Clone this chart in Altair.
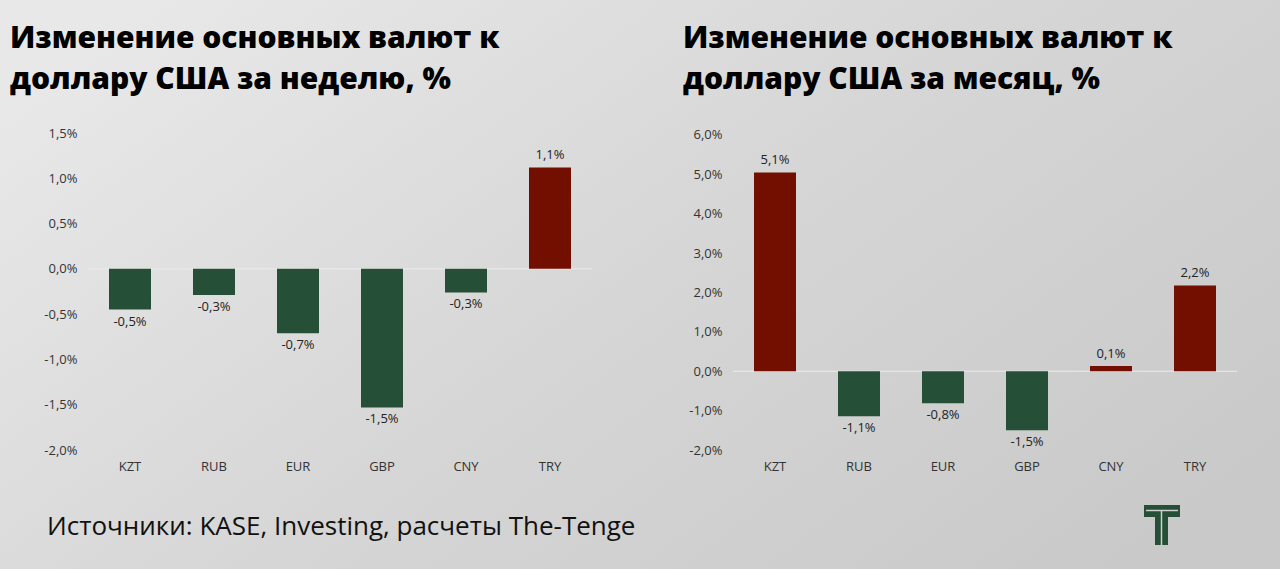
import altair as alt
import pandas as pd

categories = ["KZT", "RUB", "EUR", "GBP", "CNY", "TRY"]
week_values = [-0.45, -0.29, -0.71, -1.53, -0.26, 1.12]
week_labels = ["-0,5%", "-0,3%", "-0,7%", "-1,5%", "-0,3%", "1,1%"]
month_values = [5.05, -1.14, -0.81, -1.50, 0.13, 2.18]
month_labels = ["5,1%", "-1,1%", "-0,8%", "-1,5%", "0,1%", "2,2%"]
week_ticks = [-2.0, -1.5, -1.0, -0.5, 0.0, 0.5, 1.0, 1.5]
month_ticks = [-2.0, -1.0, 0.0, 1.0, 2.0, 3.0, 4.0, 5.0, 6.0]
title_week = ["Изменение основных валют к", "доллару США за неделю, %"]
title_month = ["Изменение основных валют к", "доллару США за месяц, %"]
source_text = "Источники: KASE, Investing, расчеты The-Tenge"

GREEN = "#264f37"
RED = "#730f00"
FONT = "Open Sans"

one = pd.DataFrame({"a": [0]})
zero = pd.DataFrame({"value": [0.0]})

label_expr = "(datum.value < 0 ? '-' : '') + replace(format(abs(datum.value), '.1f'), '.', ',') + '%'"


def panel(values, labels, domain, ticks, title_lines, title_dx, extra=None, background=False):
    df = pd.DataFrame({"cur": categories, "value": values, "label": labels})
    base = alt.Chart(df)
    x = alt.X("cur:N", sort=categories,
              scale=alt.Scale(paddingInner=0.5, paddingOuter=0.25),
              axis=alt.Axis(title=None, orient="bottom", domain=False, ticks=False,
                            labelAngle=0, labelPadding=10, zindex=1))
    y = alt.Y("value:Q", scale=alt.Scale(domain=domain, nice=False, zero=False),
              axis=alt.Axis(title=None, values=ticks, tickCount=len(ticks), grid=False,
                            domain=False, ticks=False, labelPadding=11,
                            labelExpr=label_expr, labelOverlap=False,
                            labelFlush=False, zindex=1))
    bars = base.mark_bar().encode(
        x=x, y=y,
        color=alt.condition("datum.value > 0", alt.value(RED), alt.value(GREEN)),
    )
    rule = alt.Chart(zero).mark_rule(color="#ececec", strokeWidth=1).encode(y=y)
    pos = base.transform_filter("datum.value > 0").mark_text(
        baseline="bottom", dy=-5, fontSize=13, font=FONT, color="#222"
    ).encode(x=x, y=y, text="label:N")
    neg = base.transform_filter("datum.value <= 0").mark_text(
        baseline="top", dy=6, fontSize=13, font=FONT, color="#222"
    ).encode(x=x, y=y, text="label:N")
    titles = [
        alt.Chart(one).mark_text(
            text=line, align="left", baseline="alphabetic", fontSize=30,
            fontWeight=800, font=FONT, color="#000"
        ).encode(x=alt.value(title_dx), y=alt.value(-85 + 41 * i))
        for i, line in enumerate(title_lines)
    ]
    layers = []
    if background:
        grad = alt.LinearGradient(
            gradient="linear",
            stops=[alt.GradientStop(color="#e8e8e8", offset=0),
                   alt.GradientStop(color="#d6d6d6", offset=0.5),
                   alt.GradientStop(color="#c9c9c9", offset=1)],
            x1=0, y1=0.2, x2=1, y2=0.8,
        )
        layers.append(alt.Chart(one).mark_rect(fill=grad).encode(
            x=alt.value(-88), x2=alt.value(1192), y=alt.value(-133), y2=alt.value(436)))
    layers += [rule, bars, pos, neg] + titles
    if extra:
        layers += extra
    return alt.layer(*layers).properties(width=504, height=317)


source = alt.Chart(one).mark_text(
    text=source_text, align="left", baseline="alphabetic", fontSize=26,
    font=FONT, color="#111"
).encode(x=alt.value(-41), y=alt.value(402))

logo_color = "#264f37"
logo_light = "#cfcfcf"
logo = [
    alt.Chart(one).mark_rect(color=logo_color).encode(
        x=alt.value(411), x2=alt.value(447), y=alt.value(372), y2=alt.value(384)),
    alt.Chart(one).mark_rect(color=logo_color).encode(
        x=alt.value(422), x2=alt.value(435), y=alt.value(384), y2=alt.value(412)),
    alt.Chart(one).mark_rule(color=logo_light, strokeWidth=1.5).encode(
        x=alt.value(413), x2=alt.value(445), y=alt.value(377.5)),
    alt.Chart(one).mark_rule(color=logo_light, strokeWidth=1.5).encode(
        x=alt.value(428.5), y=alt.value(377.5), y2=alt.value(412)),
]

left = panel(week_values, week_labels, [-2.0, 1.5], week_ticks, title_week, -78,
             extra=[source], background=True)
right = panel(month_values, month_labels, [-2.0, 6.05], month_ticks, title_month, -50,
              extra=logo)

chart = alt.hconcat(left, right, spacing=141, bounds="flush").configure(
    padding=0, background="#d6d6d6"
).configure_view(stroke=None).configure_axis(
    labelFont=FONT, labelFontSize=13, labelColor="#333"
)

chart.save("out.html", embed_options={"renderer": "svg", "actions": False})
